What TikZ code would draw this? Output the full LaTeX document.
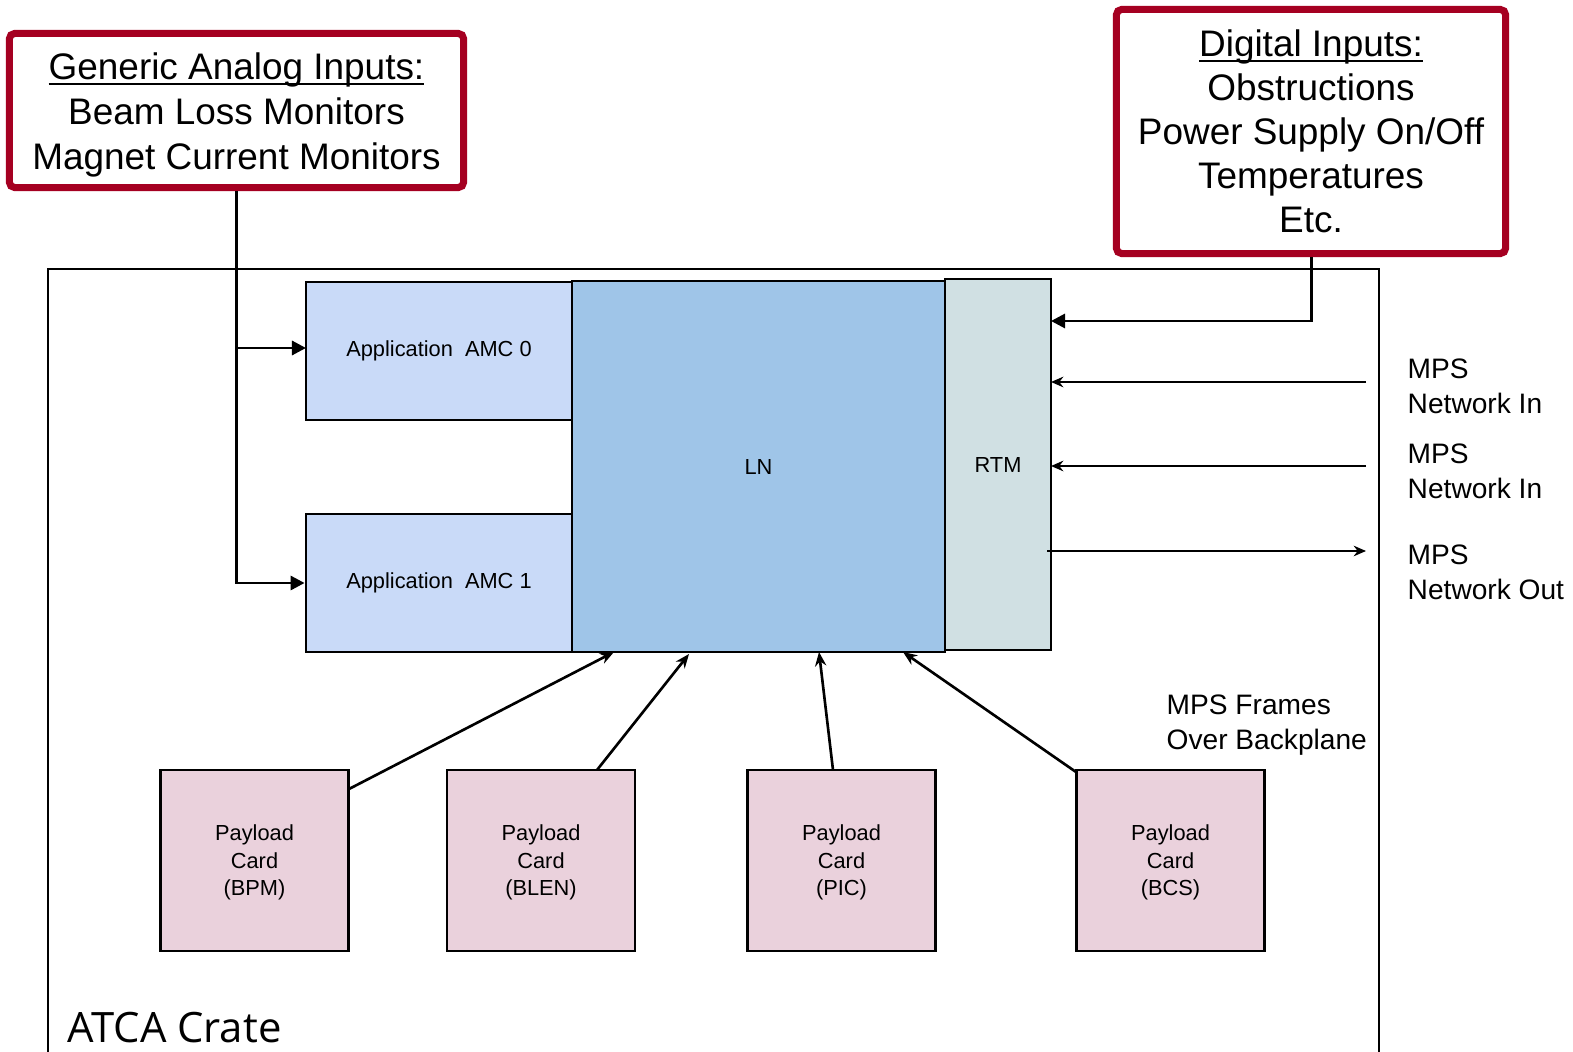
\documentclass[tikz,border=0pt]{standalone}
\usepackage{fontspec}
\setmainfont{Liberation Sans}
\newfontfamily\osans{Open Sans}
\usetikzlibrary{arrows.meta}
\definecolor{redb}{HTML}{A50021}
\definecolor{amcfill}{HTML}{C9DAF8}
\definecolor{lnfill}{HTML}{9FC5E8}
\definecolor{rtmfill}{HTML}{D0E0E3}
\definecolor{cardfill}{HTML}{EAD1DC}
\newsavebox{\myulbox}
\newcommand{\myul}[1]{\sbox{\myulbox}{#1}\rlap{\rule[-1.4pt]{\wd\myulbox}{0.55pt}}\usebox{\myulbox}}
\tikzset{
  redbox/.style={draw=redb, line width=2pt, rounded corners=1.5pt, fill=white, inner sep=0pt, align=center,
    font=\fontsize{10.5}{12.7}\selectfont},
  redtext/.style={inner sep=0pt, align=center, font=\fontsize{10.5}{12.7}\selectfont},
  blk/.style={draw=black, line width=0.75pt, inner sep=0pt, font=\fontsize{6.2}{7.9}\selectfont, align=center},
  amcbox/.style={blk, fill=amcfill, minimum width=2.66cm, minimum height=1.38cm},
  cardbox/.style={blk, fill=cardfill, minimum width=1.88cm, minimum height=1.81cm},
  cardtext/.style={inner sep=0pt, align=center, font=\fontsize{6.2}{7.9}\selectfont},
  thickarrow/.style={line width=0.85pt, -{Triangle[length=4pt,width=4pt]}},
  thinarrow/.style={line width=0.6pt, -{Stealth[length=3.5pt,width=3pt]}},
  cardarrow/.style={line width=0.75pt, -{Stealth[length=4pt,width=3.2pt]}},
  mpslabel/.style={anchor=west, align=left, inner sep=0pt, font=\fontsize{8}{10}\selectfont}
}
\begin{document}
\begin{tikzpicture}[x=0.01cm,y=-0.01cm]
\useasboundingbox (0,0) rectangle (1573,1052);
% crate
\draw[line width=0.6pt] (48,1070) -- (48,269) -- (1379,269) -- (1379,1070);
\node[anchor=base west, inner sep=0pt, font=\osans\fontsize{11.9}{13}\selectfont] (crate) at (67,1042) {ATCA Crate};

% input boxes
\node[redbox, minimum width=4.54cm, minimum height=1.54cm] (ana) at (236.5,110.5) {};
\node[redtext] (anatext) at (236.5,115)
  {\myul{Generic Analog Inputs:}\\Beam Loss Monitors\\Magnet Current Monitors};
\node[redbox, minimum width=3.89cm, minimum height=2.44cm, font=\fontsize{10.5}{12.5}\selectfont] (dig) at (1311,131.5)
  {\myul{Digital Inputs:}\\Obstructions\\Power Supply On/Off\\Temperatures\\Etc.};

% main blocks
\node[amcbox] (amc0) at (439,351) {Application\ \ AMC 0};
\node[amcbox] (amc1) at (439,583) {Application\ \ AMC 1};
\node[blk, fill=lnfill, minimum width=3.73cm, minimum height=3.71cm] (ln) at (758.5,466.5) {LN};
\node[blk, fill=rtmfill, minimum width=1.06cm, minimum height=3.71cm] (rtm) at (998,464.5) {RTM};

% payload cards
\node[cardbox] (bpm) at (254.5,860.5) {};
\node[cardbox] (blen) at (541,860.5) {};
\node[cardbox] (pic) at (841.5,860.5) {};
\node[cardbox] (bcs) at (1170.5,860.5) {};
\node[cardtext] (bpmt) at (254.5,862.5) {Payload\\Card\\(BPM)};
\node[cardtext] (blent) at (541,862.5) {Payload\\Card\\(BLEN)};
\node[cardtext] (pict) at (841.5,862.5) {Payload\\Card\\(PIC)};
\node[cardtext] (bcst) at (1170.5,862.5) {Payload\\Card\\(BCS)};

% analog connectors
\coordinate (a0) at (306,348);
\draw[thickarrow] (ana.south) |- (amc1.west);
\draw[thickarrow] (ana.south |- a0) -- (a0);

% digital connector
\coordinate (din) at (1051,321);
\draw[thickarrow] (dig.south) |- (din);

% MPS network
\coordinate (n1s) at (1366,382);
\coordinate (n1e) at (1051,382);
\coordinate (n2s) at (1366,466);
\coordinate (n2e) at (1051,466);
\coordinate (nos) at (1047,551);
\coordinate (noe) at (1366,551);
\draw[thinarrow] (n1s) -- (n1e);
\draw[thinarrow] (n2s) -- (n2e);
\draw[thinarrow] (nos) -- (noe);
\node[mpslabel] (l1) at (1407,386) {MPS\\Network In};
\node[mpslabel] (l2) at (1407,471) {MPS\\Network In};
\node[mpslabel] (l3) at (1407,572) {MPS\\Network Out};
\node[mpslabel] (l4) at (1166,725) {MPS Frames\\Over Backplane};

% backplane arrows
\coordinate (b1s) at (349,789);  \coordinate (b1e) at (614,652);
\coordinate (b2s) at (597,770);  \coordinate (b2e) at (689,654);
\coordinate (b3s) at (833,770);  \coordinate (b3e) at (819,652);
\coordinate (b4s) at (1076,772); \coordinate (b4e) at (903,652);
\draw[cardarrow] (b1s) -- (b1e);
\draw[cardarrow] (b2s) -- (b2e);
\draw[cardarrow] (b3s) -- (b3e);
\draw[cardarrow] (b4s) -- (b4e);
\end{tikzpicture}
\end{document}
